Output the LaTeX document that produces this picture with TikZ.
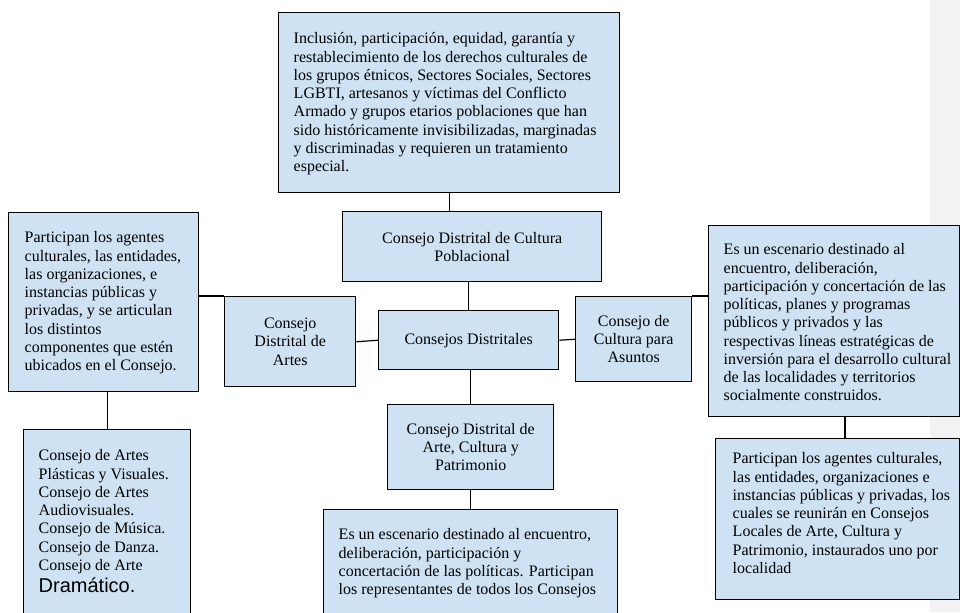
\documentclass[tikz,border=0pt]{standalone}
\usepackage{fontspec}
\setmainfont{Liberation Serif}
\newfontfamily\arialfont{Liberation Sans}
\usepackage{tikz}
\definecolor{cd_blue}{RGB}{207, 226, 243}
\definecolor{cd_grey}{RGB}{242, 242, 242}
\tikzstyle{tb}=[rectangle,fill=cd_blue,draw=black,line width=1.1pt,
  anchor=north west,inner xsep=0pt,font=\fontsize{12}{13.7}\selectfont]
\tikzstyle{cb}=[rectangle,fill=cd_blue,draw=black,line width=1.1pt,
  anchor=north west,inner sep=0pt,align=center,font=\fontsize{12}{13.7}\selectfont]
% width, height, left margin, text
\newcommand{\boxtext}[4]{\parbox[c][#2][t]{#1}{\raggedright\leftskip=#3 #4}}

\begin{document}
\begin{tikzpicture}[x=0.75pt,y=-0.75pt]
    \useasboundingbox (0,0) rectangle (960,612);
    \clip (0,0) rectangle (960,612);
    \fill [cd_grey] (930,0) rectangle (960,612);
    \node [style=tb,inner ysep=15pt] (poblaciones) at (278,12)
      {\boxtext{255.75pt}{105pt}{11.25pt}{Inclusión, participación, equidad, garantía y\\
       restablecimiento de los derechos culturales de\\
       los grupos étnicos, Sectores Sociales, Sectores\\
       LGBTI, artesanos y víctimas del Conflicto\\
       Armado y grupos etarios poblaciones que han\\
       sido históricamente invisibilizadas, marginadas\\
       y discriminadas y requieren un tratamiento\\
       especial.}};
    \node [style=cb,minimum width=194.25pt,minimum height=52.5pt] (poblacional) at (342,211)
      {Consejo Distrital de Cultura\\Poblacional};
    \node [style=cb,minimum width=135pt,minimum height=44.25pt] (distritales) at (378,310)
      {Consejos Distritales};
    \node [style=cb,minimum width=98.25pt,minimum height=67.5pt] (artes) at (224,296)
      {Consejo\\Distrital de\\Artes};
    \node [style=cb,minimum width=87pt,minimum height=63.75pt] (asuntos) at (575,296)
      {Consejo de\\Cultura para\\Asuntos};
    \node [style=cb,minimum width=124.5pt,minimum height=63.75pt] (patrimonio) at (387,404)
      {Consejo Distrital de\\Arte, Cultura y\\Patrimonio};
    \node [style=tb,inner ysep=14.25pt] (participan) at (8,212)
      {\boxtext{142.5pt}{105.75pt}{12pt}{Participan los agentes\\
       culturales, las entidades,\\
       las organizaciones, e\\
       instancias públicas y\\
       privadas, y se articulan\\
       los distintos\\
       componentes que estén\\
       ubicados en el Consejo.}};
    \node [style=tb,inner ysep=15pt] (listado) at (23,429)
      {\boxtext{125.25pt}{128.25pt}{11.25pt}{Consejo de Artes\\
       Plásticas y Visuales.\\
       Consejo de Artes\\
       Audiovisuales.\\
       Consejo de Música.\\
       Consejo de Danza.\\
       Consejo de Arte\\[2.5pt]
       {\arialfont\fontsize{15}{17}\selectfont Dramático.}}};
    \node [style=tb,inner ysep=14.25pt] (escenario) at (323,509)
      {\boxtext{220.5pt}{69.75pt}{11.25pt}{Es un escenario destinado al encuentro,\\
       deliberación, participación y\\
       concertación de las políticas. Participan\\
       los representantes de todos los Consejos}};
    \node [style=tb,inner ysep=13.5pt] (locales) at (708,225)
      {\boxtext{188.25pt}{116.25pt}{11.25pt}{Es un escenario destinado al\\
       encuentro, deliberación,\\
       participación y concertación de las\\
       políticas, planes y programas\\
       públicos y privados y las\\
       respectivas líneas estratégicas de\\
       inversión para el desarrollo cultural\\
       de las localidades y territorios\\
       socialmente construidos.}};
    \node [style=tb,inner ysep=10.5pt] (localidad) at (715,438)
      {\boxtext{183pt}{99.75pt}{12.75pt}{Participan los agentes culturales,\\
       las entidades, organizaciones e\\
       instancias públicas y privadas, los\\
       cuales se reunirán en Consejos\\
       Locales de Arte, Cultura y\\
       Patrimonio, instaurados uno por\\
       localidad}};
    \draw [line width=0.9pt] (poblaciones.south) to (poblaciones.south |- poblacional.north);
    \draw [line width=0.9pt] (distritales.north |- poblacional.south) to (distritales.north);
    \draw [line width=0.9pt] (distritales.west) to (artes.east);
    \draw [line width=0.9pt] (distritales.east) to (asuntos.west);
    \draw [line width=0.9pt] (patrimonio.north |- distritales.south) to (patrimonio.north);
    \draw [line width=0.9pt] (patrimonio.south) to (patrimonio.south |- escenario.north);
    \draw [line width=0.9pt] (artes.north west) to (artes.north west -| participan.east);
    \draw [line width=0.9pt] (listado.north |- participan.south) to (listado.north);
    \draw [line width=0.9pt] (asuntos.north east) to (asuntos.north east -| locales.west);
    \draw [line width=0.9pt] ([xshift=8pt]locales.south) to ([xshift=8pt]locales.south |- localidad.north);
  \end{tikzpicture}
\end{document}
